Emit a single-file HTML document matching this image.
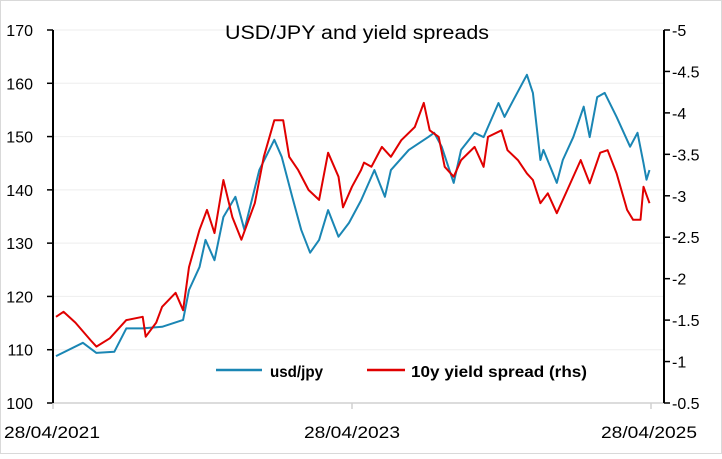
<!DOCTYPE html>
<html><head><meta charset="utf-8"><style>
body{margin:0;background:#fff}
svg text{font-family:"Liberation Sans",sans-serif;fill:#000}
</style></head><body>
<svg width="722" height="454" viewBox="0 0 722 454">
<rect x="0.5" y="0.5" width="721" height="453" fill="#fff" stroke="#d9d9d9"/>
<g id="grid"></g>
<g id="axes"></g>
<g id="series"></g>
<text x="225" y="39" textLength="264" lengthAdjust="spacingAndGlyphs" font-size="19">USD/JPY and yield spreads</text>
<g>
<line x1="216" y1="370" x2="262" y2="370" stroke="#1a86b4" stroke-width="2.5"/>
<text x="270" y="377" textLength="53" lengthAdjust="spacingAndGlyphs" font-size="16" font-weight="bold">usd/jpy</text>
<line x1="367" y1="370" x2="405" y2="370" stroke="#e00000" stroke-width="2.5"/>
<text x="411" y="377" textLength="176" lengthAdjust="spacingAndGlyphs" font-size="16" font-weight="bold">10y yield spread (rhs)</text>
</g>
</svg>
<script>
const usdT=[0.02,0.20,0.29,0.41,0.49,0.60,0.73,0.87,0.91,0.98,1.02,1.08,1.14,1.22,1.28,1.38,1.48,1.53,1.60,1.66,1.72,1.78,1.84,1.91,1.98,2.06,2.15,2.22,2.26,2.38,2.51,2.55,2.60,2.68,2.73,2.82,2.88,2.91,2.98,3.02,3.08,3.17,3.21,3.26,3.28,3.37,3.41,3.48,3.55,3.59,3.64,3.69,3.77,3.86,3.91,3.95,3.97,3.99];
const usdV=[108.8,111.3,109.4,109.6,114,114,114.3,115.6,121.2,125.5,130.6,126.8,134.9,138.7,132.5,143.7,149.4,146.2,138.7,132.5,128.2,130.6,136.2,131.2,133.8,138,143.7,138.7,143.7,147.5,149.9,150.7,148.1,141.3,147.5,150.7,149.9,151.8,156.3,153.7,156.9,161.6,158.2,145.6,147.5,141.3,145.6,149.9,155.6,149.9,157.4,158.2,153.7,148.1,150.7,145,141.9,143.7];
const sprT=[0.02,0.07,0.15,0.25,0.29,0.38,0.49,0.60,0.62,0.69,0.73,0.82,0.87,0.91,0.98,1.03,1.08,1.14,1.20,1.26,1.35,1.41,1.48,1.54,1.58,1.64,1.71,1.78,1.84,1.91,1.94,2.00,2.06,2.08,2.13,2.20,2.26,2.33,2.42,2.48,2.52,2.58,2.62,2.68,2.73,2.82,2.88,2.91,3.00,3.04,3.11,3.17,3.21,3.26,3.31,3.37,3.44,3.53,3.59,3.66,3.71,3.77,3.84,3.88,3.93,3.95,3.99];
const sprV=[-1.54,-1.60,-1.47,-1.26,-1.18,-1.28,-1.50,-1.54,-1.30,-1.47,-1.66,-1.83,-1.62,-2.14,-2.59,-2.83,-2.55,-3.19,-2.74,-2.47,-2.91,-3.47,-3.91,-3.91,-3.47,-3.31,-3.07,-2.95,-3.52,-3.23,-2.86,-3.11,-3.31,-3.40,-3.35,-3.59,-3.47,-3.67,-3.83,-4.12,-3.79,-3.71,-3.35,-3.23,-3.43,-3.59,-3.35,-3.71,-3.79,-3.55,-3.43,-3.27,-3.19,-2.91,-3.03,-2.79,-3.07,-3.43,-3.15,-3.52,-3.55,-3.27,-2.83,-2.71,-2.71,-3.11,-2.91];
const leftTicks=[100,110,120,130,140,150,160,170];
const rightTicks=[-0.5,-1,-1.5,-2,-2.5,-3,-3.5,-4,-4.5,-5];
const xTickT=[0,2,4];
const xTickLabels=["28/04/2021","28/04/2023","28/04/2025"];
const NS="http://www.w3.org/2000/svg";
const X0=53,X1=651,YT=30,YB=403;
const xs=t=>X0+t/4*(X1-X0);
const yl=v=>YB-(v-100)/70*(YB-YT);
const yr=v=>YT+(v-(-5))/4.5*(YB-YT);
function mk(tag,attrs,parent){const e=document.createElementNS(NS,tag);for(const k in attrs)e.setAttribute(k,attrs[k]);parent.appendChild(e);return e;}
const grid=document.getElementById('grid'),axes=document.getElementById('axes'),ser=document.getElementById('series');
leftTicks.forEach(v=>{
 const y=yl(v);
 if(v>100){const g=mk('line',{x1:X0,x2:664,y1:y,y2:y,stroke:'#eeeeee','stroke-width':1},grid);
 
 }
 const tk=mk('line',{x1:47,x2:X0,y1:y,y2:y,stroke:'#000','stroke-width':1.5},axes);
 
 
 const t=mk('text',{x:33,y:y+6,'text-anchor':'end','font-size':16},axes);t.textContent=v;
 
 
});
rightTicks.forEach(v=>{
 const y=yr(v);
 const tk=mk('line',{x1:664,x2:670,y1:y,y2:y,stroke:'#000','stroke-width':1.5},axes);
 
 
 const t=mk('text',{x:672,y:y+6,'font-size':16},axes);t.textContent=v;
 
 
});
const bx=mk('line',{x1:X0,x2:664,y1:YB,y2:YB,stroke:'#d0d0d0','stroke-width':1.5},axes);


xTickT.forEach((t,i)=>{
 const x=xs(t);
 const tk=mk('line',{x1:x,x2:x,y1:YB,y2:YB+6,stroke:'#d0d0d0','stroke-width':1.5},axes);
 
 
 const tx=i==0?4:(i==xTickT.length-1?601:x-48);
 const l=mk('text',{x:tx,y:438,'font-size':17,textLength:96,lengthAdjust:'spacingAndGlyphs'},axes);l.textContent=xTickLabels[i];
 
 
});
const la=mk('line',{x1:X0,x2:X0,y1:YT,y2:YB,stroke:'#000','stroke-width':2},axes);


const ra=mk('line',{x1:664,x2:664,y1:YT,y2:YB,stroke:'#000','stroke-width':2},axes);


const pu=mk('polyline',{points:usdT.map((t,i)=>xs(t).toFixed(1)+','+yl(usdV[i]).toFixed(1)).join(' '),fill:'none',stroke:'#1a86b4','stroke-width':2,'stroke-linejoin':'round'},ser);


const ps=mk('polyline',{points:sprT.map((t,i)=>xs(t).toFixed(1)+','+yr(sprV[i]).toFixed(1)).join(' '),fill:'none',stroke:'#e00000','stroke-width':2,'stroke-linejoin':'round'},ser);


</script>
</body></html>
